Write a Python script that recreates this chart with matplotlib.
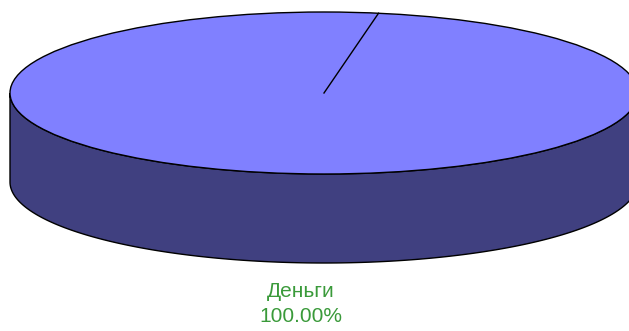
import numpy as np
import matplotlib
matplotlib.use('Agg')
from matplotlib import pyplot as plt
from matplotlib.patches import Ellipse, Polygon

# data
labels = ['Деньги']
values = [100.0]
start_angle = 80  # degrees, position of the first slice border

# geometry (pixels)
cx, cy = 324, 93
a, b = 314, 81
depth = 89

fig = plt.figure(figsize=(6.29, 3.31), dpi=100)
ax = fig.add_axes([0, 0, 1, 1])
ax.set_xlim(0, 629)
ax.set_ylim(331, 0)
ax.axis('off')

top_col = '#8080ff'
side_col = '#404080'

# side wall (front half)
t = np.linspace(np.pi, 2 * np.pi, 200)
upper = np.column_stack([cx + a * np.cos(t), cy - b * np.sin(t)])
lower = upper[::-1] + [0, depth]
side = Polygon(np.vstack([upper, lower]), closed=True, facecolor=side_col,
               edgecolor='black', lw=1.0)
ax.add_patch(side)

# top
top = Ellipse((cx, cy), 2 * a, 2 * b, facecolor=top_col, edgecolor='black', lw=1.0)
ax.add_patch(top)

# slice borders from the values
total = sum(values)
ang = start_angle
for v in values:
    r = np.deg2rad(ang)
    ax.plot([cx, cx + a * np.cos(r)], [cy, cy - b * np.sin(r)], color='black', lw=1.0)
    ang -= 360 * v / total

# label
for lab, v in zip(labels, values):
    ax.text(301, 304, f"{lab}\n{v / total * 100:.2f}%", ha='center', va='center',
            color='#3a9a3a', fontsize=15, family='Liberation Sans',
            linespacing=1.35)

fig.savefig('out.png', dpi=100)
